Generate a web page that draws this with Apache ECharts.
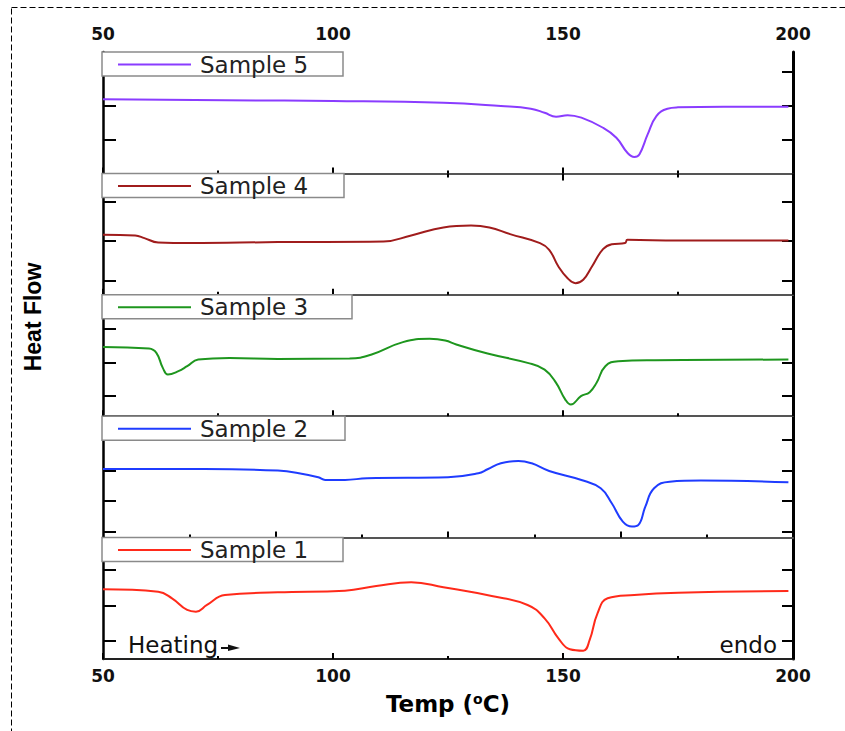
<!DOCTYPE html>
<html>
<head>
<meta charset="utf-8">
<script src="https://cdn.jsdelivr.net/npm/echarts@6/dist/echarts.min.js"></script>
<style>
  html, body { margin: 0; padding: 0; background: #fff; }
  #chart { width: 845px; height: 731px; }
</style>
</head>
<body>
<div id="chart"></div>
<script>
// --- data (heat flow in arbitrary units, 0..10 per panel) ---
var sampleNames = ['Sample 5', 'Sample 4', 'Sample 3', 'Sample 2', 'Sample 1'];
var sampleColors = ['#8a3cff', '#a01c1c', '#1e961e', '#1f3cff', '#ff2a1a'];

var temp5 = [50, 100, 124, 136.5, 143, 146, 148.5, 151, 154, 158.7, 161.6, 164, 165.5, 166.6, 168.4, 170.3, 172.7, 175, 185, 199];
var flow5 = [6.10, 5.96, 5.82, 5.55, 5.33, 5.0, 4.67, 4.80, 4.59, 3.76, 2.94, 1.70, 1.35, 1.56, 3.21, 4.72, 5.33, 5.44, 5.49, 5.49];

var temp4 = [50, 57, 59, 62, 69, 88, 111, 117, 124, 130, 134, 138.5, 145, 147, 149, 151, 152.7, 154.4, 156.3, 158.7, 160.6, 163.5, 164, 175, 199];
var flow4 = [4.94, 4.89, 4.67, 4.31, 4.26, 4.34, 4.39, 4.89, 5.55, 5.71, 5.55, 5.0, 4.26, 3.71, 2.33, 1.37, 0.96, 1.24, 2.33, 3.76, 4.17, 4.26, 4.53, 4.47, 4.47];

var temp3 = [50, 60, 61.6, 63, 64.1, 66.4, 68.3, 70.7, 77.5, 88, 103.6, 108.4, 115.2, 121, 124.4, 126.8, 133.6, 142.3, 146, 148.5, 150.5, 151.7, 153.9, 155.8, 157.3, 159.2, 162, 170, 199];
var flow3 = [5.71, 5.57, 5.22, 3.98, 3.43, 3.71, 4.12, 4.67, 4.80, 4.72, 4.75, 5.08, 6.10, 6.37, 6.24, 5.91, 5.16, 4.39, 3.84, 2.75, 1.37, 0.96, 1.65, 1.98, 2.75, 4.12, 4.53, 4.61, 4.67];

var temp2 = [50, 78, 88, 92, 96.8, 98.3, 102.6, 107.4, 125, 131.6, 133.6, 136.5, 140.3, 143.2, 147, 154, 158.2, 160.6, 163, 165, 166.4, 167.9, 169.8, 173.2, 180, 199];
var flow2 = [5.66, 5.63, 5.52, 5.35, 4.97, 4.75, 4.75, 4.89, 4.97, 5.30, 5.63, 6.12, 6.32, 6.12, 5.49, 4.75, 4.06, 2.83, 1.32, 0.91, 1.05, 2.55, 4.06, 4.61, 4.70, 4.56];

var temp1 = [50, 62, 65, 68.3, 70.2, 72.6, 76.5, 88, 102.6, 109.4, 117, 124, 134.5, 142.3, 146, 149, 151.5, 154.4, 155.8, 157.5, 159.7, 165.5, 175, 199];
var flow1 = [5.74, 5.54, 5.0, 4.04, 3.90, 4.45, 5.27, 5.49, 5.63, 6.01, 6.32, 5.91, 5.19, 4.45, 3.35, 1.70, 0.80, 0.68, 1.57, 3.76, 5.0, 5.27, 5.46, 5.60];

// y tick positions for each panel (top to bottom)
var yTicks5 = [2.80, 5.60, 8.40];
var yTicks4 = [1.15, 4.45, 7.66];
var yTicks3 = [1.65, 4.37, 7.17];
var yTicks2 = [0.49, 3.05, 5.52, 8.07];
var yTicks1 = [1.48, 4.37, 7.33];

// odd tick marks on the boundary under Sample 2
var xTicksOddMajor = [87.5, 125, 162.5];
var xTicksOddMinor = [68.75, 106.25, 143.75, 181.25];

var temps = [temp5, temp4, temp3, temp2, temp1];
var flows = [flow5, flow4, flow3, flow2, flow1];
var yTicks = [yTicks5, yTicks4, yTicks3, yTicks2, yTicks1];
var legendWidths = [137, 138, 146, 139, 137];

var chart = echarts.init(document.getElementById('chart'), null, { renderer: 'svg' });

var PLOT_LEFT = 103, PLOT_RIGHT = 52, PLOT_TOP = 52, PANEL_H = 121.4;
var boxGray = '#555';

var grids = [], xAxes = [], yAxes = [], series = [], legends = [];

for (var i = 0; i < 5; i++) {
  var panelTop = PLOT_TOP + i * PANEL_H;
  grids.push({ left: PLOT_LEFT, right: PLOT_RIGHT, top: panelTop, height: PANEL_H, outerBoundsMode: 'none' });

  var isLast = i === 4;
  var isOdd = i === 3;
  xAxes.push({
    type: 'value', gridIndex: i, position: 'bottom',
    min: 50, max: 200, interval: 50,
    axisLine: { show: true, lineStyle: { color: isLast ? '#222' : boxGray, width: 2 } },
    axisTick: isOdd
      ? { show: true, inside: true, length: 6, lineStyle: { color: '#000', width: 2 }, customValues: xTicksOddMajor }
      : { show: true, inside: true, length: 6, lineStyle: { color: '#000', width: 2 } },
    minorTick: { show: !isOdd, splitNumber: 2, length: 3, lineStyle: { color: '#000', width: 2 } },
    splitLine: { show: false },
    axisLabel: {
      show: isLast, margin: 8, fontFamily: 'DejaVu Sans', fontWeight: 'bold', fontSize: 17, color: '#111'
    },
    name: isLast ? '{a|Temp (}{s|o}{a|C)}' : '',
    nameLocation: 'middle', nameGap: 33,
    nameTextStyle: {
      rich: {
        a: { fontFamily: 'DejaVu Sans', fontWeight: 'bold', fontSize: 23, color: '#000' },
        s: { fontFamily: 'DejaVu Sans', fontWeight: 'bold', fontSize: 14, color: '#000', verticalAlign: 'top' }
      }
    }
  });

  yAxes.push({
    type: 'value', gridIndex: i, position: 'left', min: 0, max: 10,
    axisLine: { show: true, lineStyle: { color: '#000', width: 2.5 } },
    axisTick: { show: true, inside: true, length: 13, lineStyle: { color: '#000', width: 2 }, customValues: yTicks[i] },
    axisLabel: { show: false },
    splitLine: { show: false }
  });

  series.push({
    type: 'line', name: sampleNames[i],
    xAxisIndex: i, yAxisIndex: i,
    data: temps[i].map(function (t, k) { return [t, flows[i][k]]; }),
    smooth: 0.45,
    symbol: 'none', silent: true,
    lineStyle: { color: sampleColors[i], width: 2 },
    itemStyle: { color: sampleColors[i] },
    z: 3
  });

  legends.push({
    data: [{ name: sampleNames[i], icon: 'rect' }],
    left: 102, top: panelTop,
    selectedMode: false,
    padding: [1, 6, 0, 16],
    itemWidth: 73, itemHeight: 2,
    backgroundColor: '#fff',
    borderColor: '#8a8a8a', borderWidth: 1.5, borderRadius: 0,
    textStyle: {
      fontFamily: 'DejaVu Sans', fontSize: 23, lineHeight: 22, color: '#222',
      width: legendWidths[i], padding: [0, 0, 0, 4]
    }
  });
}

// right side frame with ticks
for (var j = 0; j < 5; j++) {
  yAxes.push({
    type: 'value', gridIndex: j, position: 'right', min: 0, max: 10,
    axisLine: { show: true, lineStyle: { color: '#000', width: 3 } },
    axisTick: { show: true, inside: true, length: 11, lineStyle: { color: '#000', width: 2 }, customValues: yTicks[j] },
    axisLabel: { show: false },
    splitLine: { show: false }
  });
}

// top axis with labels
xAxes.push({
  type: 'value', gridIndex: 0, position: 'top',
  min: 50, max: 200, interval: 50,
  axisLine: { show: true, lineStyle: { color: boxGray, width: 2 } },
  axisTick: { show: true, inside: true, length: 7, lineStyle: { color: '#000', width: 2 } },
  minorTick: { show: true, splitNumber: 2, length: 4, lineStyle: { color: '#000', width: 2 } },
  splitLine: { show: false },
  axisLabel: { show: true, margin: 10, fontFamily: 'DejaVu Sans', fontWeight: 'bold', fontSize: 17, color: '#111' }
});

// minor odd ticks under Sample 2
xAxes.push({
  type: 'value', gridIndex: 3, position: 'bottom',
  min: 50, max: 200,
  axisLine: { show: false },
  axisTick: { show: true, inside: true, length: 3, lineStyle: { color: '#000', width: 2 }, customValues: xTicksOddMinor },
  splitLine: { show: false },
  axisLabel: { show: false }
});

chart.setOption({
  animation: false,
  backgroundColor: '#fff',
  grid: grids,
  xAxis: xAxes,
  yAxis: yAxes,
  legend: legends,
  series: series,
  graphic: [
    {
      type: 'rect', silent: true, z: 0,
      shape: { x: 11.5, y: 7.5, width: 900, height: 800 },
      style: { fill: 'none', stroke: '#000', lineWidth: 1, lineDash: [6, 3] }
    },
    {
      type: 'text', x: 33, y: 317, rotation: Math.PI / 2,
      style: {
        text: 'Heat Flow', fontFamily: 'Liberation Sans', fontWeight: 'bold', fontSize: 23,
        fill: '#000', align: 'center', verticalAlign: 'middle'
      }
    },
    {
      type: 'text', x: 128, y: 645,
      style: {
        text: 'Heating', fontFamily: 'DejaVu Sans', fontSize: 23,
        fill: '#111', align: 'left', verticalAlign: 'middle'
      }
    },
    {
      type: 'polygon',
      shape: { points: [[221, 647], [228, 647], [228, 644.5], [240, 648], [228, 651], [228, 649], [221, 649]] },
      style: { fill: '#111' }
    },
    {
      type: 'text', x: 777, y: 645,
      style: {
        text: 'endo', fontFamily: 'DejaVu Sans', fontSize: 23,
        fill: '#111', align: 'right', verticalAlign: 'middle'
      }
    }
  ]
});
</script>
</body>
</html>
